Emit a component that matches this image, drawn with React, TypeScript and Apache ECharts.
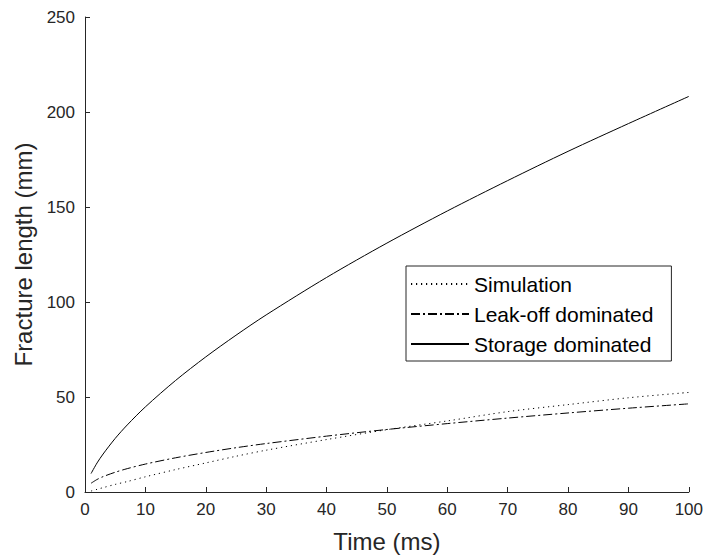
import React, { useEffect, useRef } from "react";
import * as echarts from "echarts";

const timeMs = [1, 2, 3, 5, 7, 10, 15, 20, 25, 30, 40, 50, 60, 70, 80, 90, 100];
const simulation = [0.5, 1.4, 2.3, 4.0, 5.5, 8.0, 11.8, 15.3, 18.8, 22.0, 27.6, 32.8, 37.4, 42.3, 46.0, 49.6, 52.4];
const leakOff = [4.6, 6.6, 8.1, 10.4, 12.3, 14.7, 18.0, 20.8, 23.3, 25.5, 29.4, 32.9, 36.0, 38.9, 41.6, 44.1, 46.4];
const storage = [9.7, 15.3, 20.0, 28.2, 35.3, 44.8, 58.7, 71.1, 82.5, 93.2, 112.9, 131.0, 147.9, 163.9, 179.3, 193.9, 208.2];
const xTicks = { min: 0, max: 100, interval: 10 };
const yTicks = { min: 0, max: 250, interval: 50 };

const FONT = "'Liberation Sans', Arial, Helvetica, sans-serif";
const AX = "#262626";

function pairs(ys: number[]) {
  return timeMs.map((t, i) => [t, ys[i]]);
}

export default function App() {
  const ref = useRef<HTMLDivElement>(null);
  useEffect(() => {
    if (!ref.current) return;
    const chart = echarts.init(ref.current, undefined, { renderer: "svg" });
    const axisCommon = {
      type: "value" as const,
      nameLocation: "middle" as const,
      nameTextStyle: { fontFamily: FONT, fontSize: 24, color: AX },
      axisLine: { show: true, onZero: false, lineStyle: { color: AX, width: 1 } },
      axisTick: { show: true, inside: true, length: 5, lineStyle: { color: AX, width: 1 } },
      axisLabel: { fontFamily: FONT, fontSize: 17, color: AX },
      splitLine: { show: false },
    };
    const lineSeries = (name: string, data: number[], type: any) => ({
      name,
      type: "line",
      data: pairs(data),
      symbol: "none",
      smooth: 0.3,
      lineStyle: { color: "#000", width: 1, type },
      itemStyle: { color: "#000" },
    });
    chart.setOption({
      animation: false,
      backgroundColor: "#fff",
      grid: { left: 85, right: 16, top: 17, bottom: 67, containLabel: false },
      xAxis: {
        ...axisCommon,
        ...xTicks,
        name: "Time (ms)",
        nameGap: 37,
        axisLabel: { ...axisCommon.axisLabel, margin: 9 },
      },
      yAxis: {
        ...axisCommon,
        ...yTicks,
        name: "Fracture length (mm)",
        nameGap: 48,
        axisLabel: { ...axisCommon.axisLabel, margin: 10 },
      },
      legend: {
        orient: "vertical",
        left: 406,
        top: 266,
        padding: [3, 18, 2, 4],
        itemGap: 0,
        itemWidth: 58,
        itemHeight: 14,
        borderColor: AX,
        borderWidth: 1,
        backgroundColor: "#fff",
        itemStyle: { opacity: 0 },
        textStyle: { fontFamily: FONT, fontSize: 21, color: "#000", lineHeight: 30 },
        data: ["Simulation", "Leak-off dominated", "Storage dominated"],
      },
      series: [
        lineSeries("Simulation", simulation, [1.2, 3.8]),
        lineSeries("Leak-off dominated", leakOff, [9, 3, 2, 3]),
        lineSeries("Storage dominated", storage, "solid"),
      ],
    });
    return () => chart.dispose();
  }, []);
  return <div ref={ref} style={{ width: 706, height: 559, position: "absolute", left: 0, top: 0 }} />;
}
